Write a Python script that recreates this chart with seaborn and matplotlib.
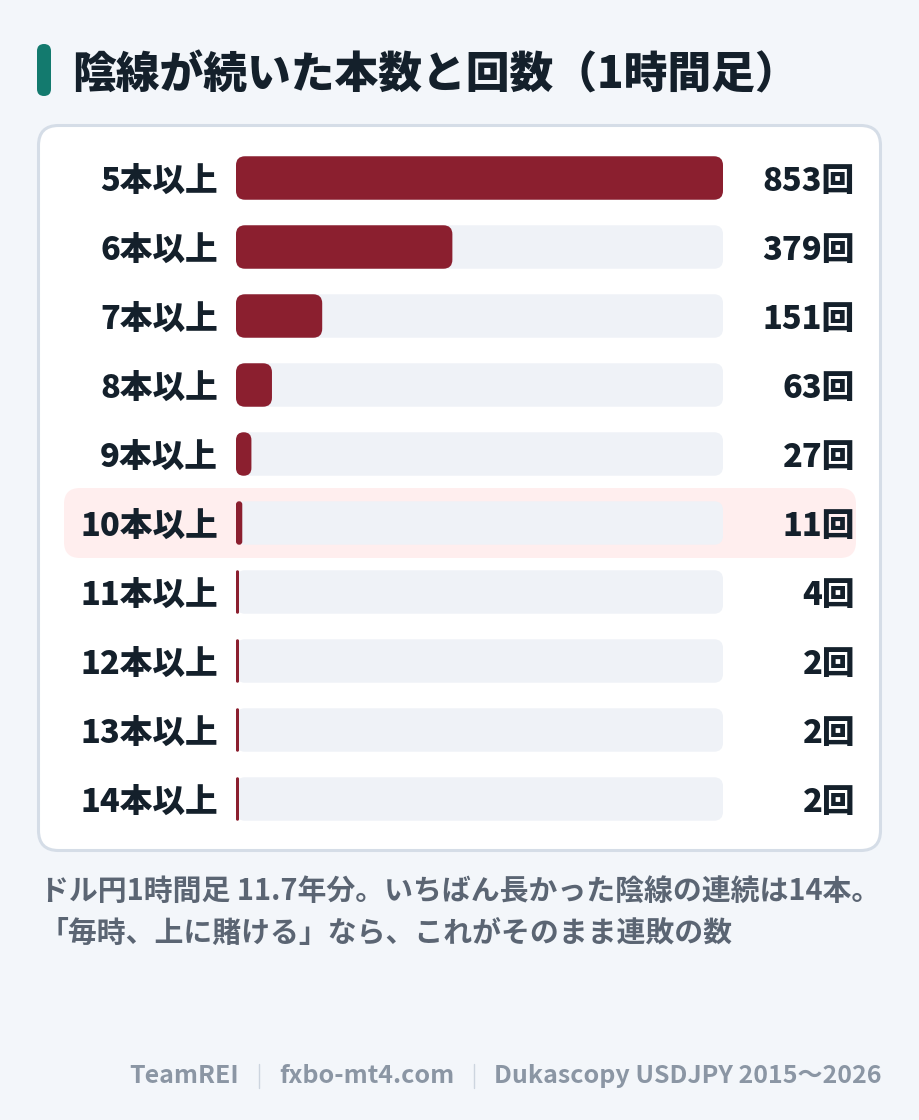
import matplotlib
matplotlib.use("Agg")
import matplotlib.pyplot as plt
import seaborn as sns
import pandas as pd
from matplotlib.patches import FancyBboxPatch

# data
labels = ["5本以上", "6本以上", "7本以上", "8本以上", "9本以上",
          "10本以上", "11本以上", "12本以上", "13本以上", "14本以上"]
counts = [853, 379, 151, 63, 27, 11, 4, 2, 2, 2]
value_labels = [f"{c}回" for c in counts]
highlight_label = "10本以上"

title = "陰線が続いた本数と回数（1時間足）"
note_lines = ["ドル円1時間足 11.7年分。いちばん長かった陰線の連続は14本。",
              "「毎時、上に賭ける」なら、これがそのまま連敗の数"]
footer_parts = ["TeamREI", "fxbo-mt4.com", "Dukascopy USDJPY 2015〜2026"]

# colours
BG = "#f3f6fa"
CARD_EDGE = "#d5dde7"
BAR = "#8b1f2f"
TRACK = "#eff2f7"
HILITE = "#ffeeee"
INK = "#14202b"
NOTE = "#5b6573"
FOOT = "#8b96a4"
SEP = "#cdd5df"
TEAL = "#137a6e"

sns.set_style("white")
plt.rcParams["font.family"] = ["Noto Sans CJK JP", "DejaVu Sans"]

W, H = 920, 1120
fig = plt.figure(figsize=(W / 100, H / 100), dpi=100)
fig.patch.set_facecolor(BG)

# background layer in pixel coordinates
bg = fig.add_axes([0, 0, 1, 1], zorder=0)
bg.set_xlim(0, W)
bg.set_ylim(H, 0)
bg.axis("off")

bg.add_patch(FancyBboxPatch((38.5, 125.5), 842, 725,
                            boxstyle="round,pad=0,rounding_size=20",
                            fc="white", ec=CARD_EDGE, lw=2.2))
bg.add_patch(FancyBboxPatch((37, 44), 14, 52,
                            boxstyle="round,pad=0,rounding_size=7",
                            fc=TEAL, ec="none"))
bg.text(72, 75, title, fontsize=31.5, fontweight="heavy", color=INK,
        ha="left", va="center")

# bar layout
left, right = 236, 723
row0, step = 178, 69
n = len(labels)
top = row0 - step / 2
bottom = top + step * n

idx = labels.index(highlight_label)
cy = row0 + step * idx
bg.add_patch(FancyBboxPatch((64, cy - 35), 792, 70,
                            boxstyle="round,pad=0,rounding_size=16",
                            fc=HILITE, ec="none"))

ax = fig.add_axes([left / W, 1 - bottom / H, (right - left) / W, (bottom - top) / H],
                  zorder=2)
ax.patch.set_alpha(0)

df = pd.DataFrame({"label": labels, "count": counts, "track": max(counts)})
sns.barplot(data=df, x="track", y="label", color=TRACK, width=0.63,
            saturation=1, errorbar=None, ax=ax)
sns.barplot(data=df, x="count", y="label", color=BAR, width=0.63,
            saturation=1, errorbar=None, ax=ax)
ax.set_xlim(0, max(counts))
ax.set_ylim(n - 0.5, -0.5)

# swap the plain rectangles for rounded ones
sx = (right - left) / max(counts)
sy = step
for p in list(ax.patches):
    x, y, w, h = p.get_x(), p.get_y(), p.get_width(), p.get_height()
    w_px = max(w * sx, 3)
    r_px = min(9, w_px / 2)
    rp = FancyBboxPatch((x, y), w_px / sx, h,
                        boxstyle=f"round,pad=0,rounding_size={r_px / sx}",
                        mutation_aspect=sx / sy,
                        fc=p.get_facecolor(), ec="none")
    p.remove()
    ax.add_patch(rp)

ax.set_yticks(range(n))
ax.set_yticklabels(labels, fontsize=23.5, fontweight="heavy", color=INK,
                   va="center_baseline")
ax.tick_params(axis="y", length=0, pad=13)
ax.set_xticks([])
ax.set_xlabel("")
ax.set_ylabel("")
sns.despine(ax=ax, left=True, bottom=True)

trans = ax.get_yaxis_transform()
x_val = (855 - left) / (right - left)
for i, txt in enumerate(value_labels):
    ax.text(x_val, i + 0.04, txt, transform=trans, ha="right", va="center",
            fontsize=23.5, fontweight="heavy", color=INK, clip_on=False)

# notes
for k, line in enumerate(note_lines):
    bg.text(40, 891 + 42 * k, line, fontsize=20.8, fontweight="bold", color=NOTE,
            ha="left", va="center")

# footer, laid out right to left
fig.canvas.draw()
renderer = fig.canvas.get_renderer()
fx = 882
fy = 1076
for j, part in enumerate(reversed(footer_parts)):
    t = bg.text(fx, fy, part, fontsize=18, fontweight="bold", color=FOOT,
                ha="right", va="center")
    fx -= t.get_window_extent(renderer).width
    if j < len(footer_parts) - 1:
        fx -= 20
        bg.plot([fx, fx], [1064, 1088], color=SEP, lw=1)
        fx -= 20

fig.savefig("out.png", dpi=100, facecolor=BG)
